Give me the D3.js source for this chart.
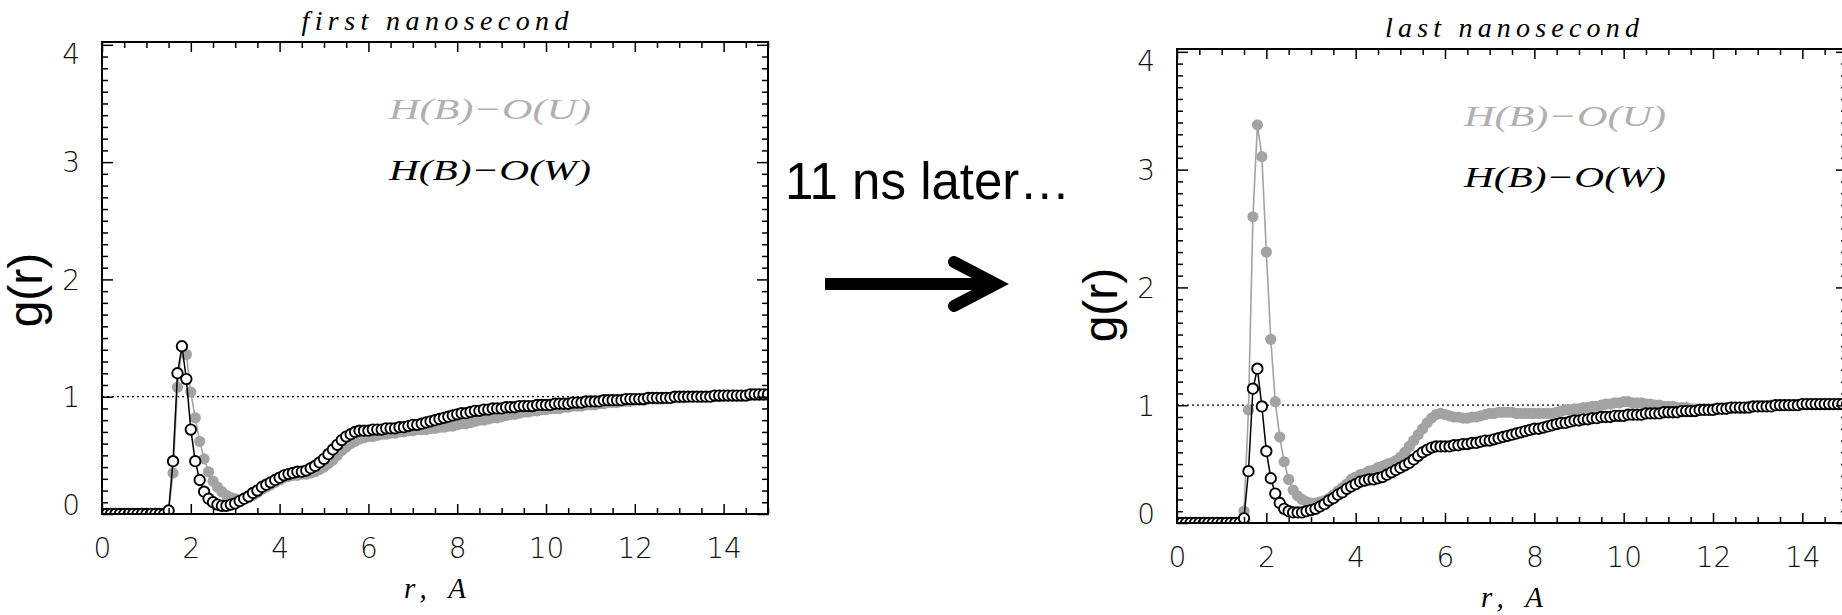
<!DOCTYPE html>
<html><head><meta charset="utf-8">
<script src="https://cdn.jsdelivr.net/npm/d3@7"></script>
<style>html,body{margin:0;padding:0;background:#fff;overflow:hidden}</style>
</head><body>
<svg id="chart" width="1842" height="615"></svg>
<script>
// ---- data (r grid in Angstrom, step 0.1) ----
const r = d3.range(151).map(i => +(i * 0.1).toFixed(1));
const xTicks = [0, 2, 4, 6, 8, 10, 12, 14];
const yTicks = [0, 1, 2, 3, 4];
const seriesNames = ["H(B)\u2212O(U)", "H(B)\u2212O(W)"];
const panelTitles = ["first nanosecond", "last nanosecond"];
const xTitle = "r,  A";
const yTitle = "g(r)";

const firstU = [0,0,0,0,0,0,0,0,0,0,0,0,0,0,0,
0.02,0.35,1.08,1.43,1.36,1.04,0.82,0.62,0.47,0.36,
0.28,0.23,0.19,0.16,0.14,0.13,0.12,0.13,0.14,0.16,
0.18,0.21,0.23,0.25,0.27,0.29,0.31,0.32,0.33,0.33,
0.34,0.34,0.35,0.36,0.38,0.40,0.43,0.46,0.50,0.54,
0.57,0.60,0.62,0.64,0.65,0.66,0.66,0.67,0.68,0.68,
0.69,0.69,0.70,0.70,0.71,0.71,0.72,0.72,0.72,0.73,
0.73,0.74,0.74,0.75,0.75,0.76,0.77,0.77,0.78,0.79,
0.80,0.80,0.81,0.82,0.82,0.83,0.84,0.85,0.85,0.86,
0.87,0.87,0.88,0.88,0.89,0.89,0.90,0.90,0.90,0.91,
0.91,0.92,0.92,0.92,0.93,0.93,0.93,0.94,0.94,0.95,
0.95,0.95,0.96,0.96,0.96,0.97,0.97,0.97,0.98,0.98,
0.98,0.98,0.99,0.99,0.99,0.99,0.99,1.00,1.00,1.00,
1.00,1.00,1.00,1.00,1.00,1.01,1.01,1.01,1.01,1.01,
1.01,1.01,1.01,1.01,1.01,1.01];

const firstW = [0,0,0,0,0,0,0,0,0,0,0,0,0,0,0,
0.03,0.45,1.20,1.43,1.15,0.72,0.45,0.29,0.19,0.13,
0.10,0.08,0.07,0.07,0.08,0.09,0.11,0.13,0.15,0.18,
0.20,0.23,0.25,0.27,0.29,0.31,0.33,0.34,0.35,0.36,
0.36,0.37,0.39,0.41,0.44,0.47,0.51,0.55,0.59,0.63,
0.66,0.68,0.70,0.71,0.71,0.71,0.72,0.72,0.72,0.73,
0.73,0.73,0.74,0.74,0.75,0.76,0.76,0.77,0.78,0.79,
0.80,0.81,0.82,0.83,0.84,0.85,0.86,0.86,0.87,0.88,
0.88,0.89,0.89,0.90,0.90,0.90,0.91,0.91,0.91,0.92,
0.92,0.92,0.92,0.93,0.93,0.93,0.93,0.94,0.94,0.94,
0.94,0.95,0.95,0.95,0.96,0.96,0.96,0.96,0.97,0.97,
0.97,0.97,0.97,0.98,0.98,0.98,0.98,0.98,0.99,0.99,
0.99,0.99,0.99,0.99,1.00,1.00,1.00,1.00,1.00,1.00,
1.00,1.00,1.00,1.01,1.01,1.01,1.01,1.01,1.01,1.01,
1.01,1.02,1.02,1.02,1.02,1.02];

const lastU = [0,0,0,0,0,0,0,0,0,0,0,0,0,0,0,
0.10,0.96,2.60,3.38,3.11,2.30,1.56,1.03,0.73,0.52,
0.37,0.28,0.23,0.20,0.18,0.17,0.17,0.18,0.19,0.21,
0.24,0.27,0.30,0.33,0.37,0.39,0.41,0.42,0.44,0.45,
0.47,0.48,0.50,0.51,0.53,0.56,0.60,0.65,0.70,0.75,
0.80,0.85,0.89,0.92,0.93,0.92,0.91,0.90,0.90,0.89,
0.89,0.90,0.90,0.91,0.92,0.93,0.93,0.94,0.94,0.94,
0.94,0.93,0.93,0.93,0.93,0.93,0.93,0.93,0.93,0.93,
0.94,0.95,0.96,0.96,0.97,0.97,0.98,0.98,0.99,0.99,
1.00,1.01,1.01,1.02,1.02,1.03,1.03,1.02,1.02,1.02,
1.01,1.01,1.00,1.00,0.99,0.99,0.99,0.98,0.98,0.98,
0.97,0.97,0.97,0.97,0.97,0.97,0.97,0.97,0.98,0.98,
0.98,0.98,0.98,0.99,0.99,0.99,0.99,0.99,1.00,1.00,
1.00,1.00,1.00,1.00,1.00,1.01,1.01,1.01,1.01,1.01,
1.01,1.01,1.01,1.01,1.01,1.01];

const lastW = [0,0,0,0,0,0,0,0,0,0,0,0,0,0,0,
0.04,0.44,1.14,1.31,0.99,0.61,0.38,0.25,0.17,0.12,
0.10,0.09,0.09,0.09,0.10,0.11,0.12,0.14,0.16,0.19,
0.21,0.24,0.26,0.29,0.31,0.33,0.35,0.36,0.37,0.37,
0.38,0.39,0.41,0.43,0.45,0.47,0.49,0.51,0.54,0.57,
0.60,0.62,0.64,0.65,0.65,0.65,0.65,0.66,0.66,0.67,
0.67,0.68,0.68,0.69,0.70,0.70,0.71,0.72,0.73,0.74,
0.75,0.76,0.77,0.78,0.79,0.80,0.80,0.81,0.82,0.83,
0.84,0.85,0.85,0.86,0.87,0.87,0.88,0.88,0.89,0.89,
0.90,0.90,0.90,0.91,0.91,0.91,0.92,0.92,0.92,0.92,
0.93,0.93,0.93,0.93,0.94,0.94,0.94,0.94,0.95,0.95,
0.95,0.95,0.96,0.96,0.96,0.96,0.97,0.97,0.97,0.98,
0.98,0.98,0.98,0.98,0.99,0.99,0.99,0.99,0.99,1.00,
1.00,1.00,1.00,1.00,1.00,1.01,1.01,1.01,1.01,1.01,
1.01,1.01,1.01,1.01,1.01,1.01];

// ---- layout / style ----
const panels = [
  {title: panelTitles[0], titleLen: 267, U: firstU, W: firstW, left: 102, right: 768, top: 42, bottom: 514, ylabY: 290},
  {title: panelTitles[1], titleLen: 254, U: lastU,  W: lastW,  left: 1177, right: 1847, top: 49, bottom: 523, ylabY: 305}
];
const GRAY = "#a3a3a3";
const tickFont = "'DejaVu Sans', sans-serif";
const serif = "'Liberation Serif', 'Times New Roman', serif";

const svg = d3.select("#chart");

panels.forEach((p, pi) => {
  const x = d3.scaleLinear().domain([0, 15]).range([p.left, p.right]);
  const y = d3.scaleLinear().domain([0, 4.024]).range([p.bottom, p.top]);
  const g = svg.append("g");
  const clipId = "clip" + pi;
  g.append("clipPath").attr("id", clipId).append("rect")
    .attr("x", p.left).attr("y", p.top).attr("width", p.right - p.left).attr("height", p.bottom - p.top);

  // reference line g=1
  g.append("line").attr("x1", p.left).attr("x2", p.right).attr("y1", y(1)).attr("y2", y(1))
    .attr("stroke", "#000").attr("stroke-width", 1.3).attr("stroke-dasharray", "2,3");

  const plot = g.append("g").attr("clip-path", `url(#${clipId})`);
  const line = d3.line().x((d, i) => x(r[i])).y(d => y(d));

  // gray series
  plot.append("path").datum(p.U).attr("d", line).attr("fill", "none").attr("stroke", GRAY).attr("stroke-width", 1.6);
  plot.append("g").selectAll("circle").data(p.U).join("circle")
    .attr("cx", (d, i) => x(r[i])).attr("cy", d => y(d)).attr("r", 5.6)
    .attr("fill", GRAY);
  // black series
  plot.append("path").datum(p.W).attr("d", line).attr("fill", "none").attr("stroke", "#000").attr("stroke-width", 1.5);
  plot.append("g").selectAll("circle").data(p.W).join("circle")
    .attr("cx", (d, i) => x(r[i])).attr("cy", d => y(d)).attr("r", 5.2)
    .attr("fill", "#fff").attr("stroke", "#000").attr("stroke-width", 1.9);

  // axes with inward ticks on all four sides
  const xMinor = d3.range(0, 15.01, 0.5).filter(v => v % 2 !== 0);
  const yMinor = d3.range(0, 41).map(v => v / 10).filter(v => Math.abs(v - Math.round(v)) > 1e-6);
  const styleAxis = sel => { sel.select(".domain").remove(); sel.selectAll("line").attr("stroke", "#000").attr("stroke-width", 1.5); };

  g.append("g").attr("transform", `translate(0,${p.bottom})`)
    .call(d3.axisBottom(x).tickValues(xTicks).tickSize(-10).tickPadding(24).tickFormat(d3.format("d")))
    .call(styleAxis)
    .call(s => s.selectAll("text").attr("font-family", tickFont).attr("font-size", 28).attr("fill", "#111").attr("font-weight", 200));
  g.append("g").attr("transform", `translate(0,${p.bottom})`).call(d3.axisBottom(x).tickValues(xMinor).tickSize(-6).tickFormat("")).call(styleAxis);
  g.append("g").attr("transform", `translate(0,${p.top})`).call(d3.axisTop(x).tickValues(xTicks).tickSize(-10).tickFormat("")).call(styleAxis);
  g.append("g").attr("transform", `translate(0,${p.top})`).call(d3.axisTop(x).tickValues(xMinor).tickSize(-6).tickFormat("")).call(styleAxis);

  g.append("g").attr("transform", `translate(${p.left},0)`)
    .call(d3.axisLeft(y).tickValues(yTicks).tickSize(-11).tickPadding(22).tickFormat(d3.format("d")))
    .call(styleAxis)
    .call(s => s.selectAll("text").attr("font-family", tickFont).attr("font-size", 28).attr("fill", "#111").attr("font-weight", 200)
      .attr("dy", d => d === 0 ? "-0.0em" : d === 4 ? "0.65em" : "0.35em"));
  g.append("g").attr("transform", `translate(${p.left},0)`).call(d3.axisLeft(y).tickValues(yMinor).tickSize(-6).tickFormat("")).call(styleAxis);
  g.append("g").attr("transform", `translate(${p.right},0)`).call(d3.axisRight(y).tickValues(yTicks).tickSize(-11).tickFormat("")).call(styleAxis);
  g.append("g").attr("transform", `translate(${p.right},0)`).call(d3.axisRight(y).tickValues(yMinor).tickSize(-6).tickFormat("")).call(styleAxis);

  // frame
  g.append("rect").attr("x", p.left).attr("y", p.top).attr("width", p.right - p.left).attr("height", p.bottom - p.top)
    .attr("fill", "none").attr("stroke", "#000").attr("stroke-width", 2);

  // title
  const cx = (p.left + p.right) / 2;
  g.append("text").attr("x", cx).attr("y", p.top - 12).attr("text-anchor", "middle")
    .attr("font-family", serif).attr("font-style", "italic").attr("font-size", 28)
    .attr("textLength", p.titleLen).attr("lengthAdjust", "spacing")
    .text(p.title);

  // legend
  g.append("text").attr("x", p.left + 287).attr("y", p.top + 77)
    .attr("font-family", serif).attr("font-style", "italic").attr("font-size", 30).attr("fill", "#b0b0b0")
    .attr("textLength", 202).attr("lengthAdjust", "spacingAndGlyphs").text(seriesNames[0]);
  g.append("text").attr("x", p.left + 287).attr("y", p.top + 138)
    .attr("font-family", serif).attr("font-style", "italic").attr("font-size", 30).attr("fill", "#000")
    .attr("textLength", 202).attr("lengthAdjust", "spacingAndGlyphs").text(seriesNames[1]);

  // axis titles
  g.append("text").attr("x", cx).attr("y", p.bottom + 84).attr("text-anchor", "middle")
    .attr("font-family", serif).attr("font-style", "italic").attr("font-size", 29)
    .attr("textLength", 62).attr("lengthAdjust", "spacing").text(xTitle);
  g.append("text").attr("transform", `translate(${p.left - 60},${p.ylabY}) rotate(-90)`).attr("text-anchor", "middle")
    .attr("font-family", "'Liberation Sans', Arial, sans-serif").attr("font-size", 48).text(yTitle);
});

// annotation between panels
svg.append("text").attr("x", 785).attr("y", 199)
  .attr("font-family", "'Liberation Sans', Arial, sans-serif").attr("font-size", 51).attr("fill", "#000")
  .text("11 ns later\u2026");
svg.append("line").attr("x1", 825).attr("x2", 990).attr("y1", 284).attr("y2", 284)
  .attr("stroke", "#000").attr("stroke-width", 12);
svg.append("path").attr("d", d3.line()([[954, 262], [996, 284], [954, 306]]))
  .attr("fill", "none").attr("stroke", "#000").attr("stroke-width", 12)
  .attr("stroke-linecap", "round").attr("stroke-linejoin", "miter");
</script>
</body></html>
